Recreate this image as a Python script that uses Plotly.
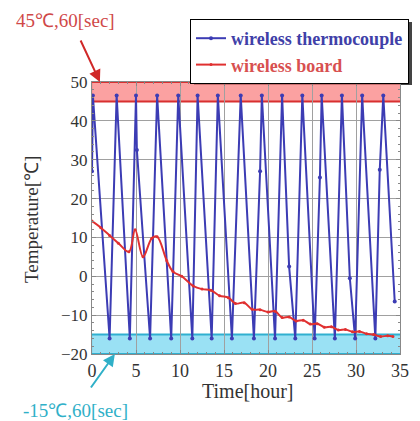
import plotly.graph_objects as go

# Wireless thermocouple (blue) - cycling between about -16 and 46 C
tc_time = [0.0, 0.1, 2.0, 2.8, 4.3, 5.0, 5.1, 6.6, 7.4, 9.0, 9.8, 11.4, 12.0, 13.6, 14.3,
           15.9, 16.9, 18.4, 19.1, 19.3, 20.8, 21.6, 22.4, 23.1, 23.9, 25.3, 25.9, 26.1,
           27.6, 28.4, 29.3, 29.9, 30.7, 32.2, 32.7, 33.1, 34.4]
tc_temp = [27.0, 46.5, -16.0, 46.5, -16.0, 46.5, 32.5, -16.0, 46.5, -16.0, 46.5, -16.0, 46.5,
           -16.0, 46.5, -16.0, 46.5, -16.0, 27.0, 46.5, -16.0, 46.5, 2.5, -16.0, 46.5,
           -16.0, 25.4, 46.5, -16.0, 46.5, -0.5, -16.0, 46.5, -16.0, 27.4, 46.5, -6.5]

# Wireless board (red)
bd_time = [0.0, 1.0, 2.0, 3.0, 4.2, 4.9, 5.8, 6.8, 7.4, 8.5, 9.2, 10.2, 11.5, 12.5, 13.5,
           14.5, 15.5, 16.3, 17.3, 18.2, 19.1, 20.0, 20.8, 21.6, 22.4, 23.2, 24.0, 24.8,
           25.6, 26.4, 27.2, 28.0, 28.8, 29.6, 30.4, 31.2, 32.0, 32.8, 33.6, 34.2]
bd_temp = [14.2, 12.5, 10.5, 8.5, 6.3, 12.0, 5.0, 9.8, 10.2, 4.0, 1.2, 0.0, -2.5, -3.3, -3.6,
           -5.0, -5.5, -7.0, -6.8, -8.5, -8.6, -9.2, -9.0, -10.6, -10.5, -11.5, -11.3, -12.3,
           -12.2, -13.1, -13.0, -13.8, -13.7, -14.3, -14.2, -14.8, -15.0, -15.5, -15.3, -15.5]

x_ticks = [0, 5, 10, 15, 20, 25, 30, 35]
y_ticks = [-20, -10, 0, 10, 20, 30, 40, 50]

SERIF = "Liberation Serif"
BLUE = "#3c3cb4"
RED = "#e03030"

OFF = 8  # page body margin
W, H = 412, 413
L, R, T, B = 84, 20, 74, 67
pw, ph = W - L - R, H - T - B


def px(x):
    return (x - OFF - L) / pw


def py(y):
    return (H - B - (y - OFF)) / ph


fig = go.Figure()
fig.add_trace(go.Scatter(x=tc_time, y=tc_temp, mode="lines+markers",
                         name="<b><span style='color:#4040a8'>wireless thermocouple</span></b>",
                         line=dict(color=BLUE, width=2),
                         marker=dict(color=BLUE, size=4)))
fig.add_trace(go.Scatter(x=bd_time, y=bd_temp, mode="lines+markers",
                         name="<b><span style='color:#d85050'>wireless board</span></b>",
                         line=dict(color=RED, width=2, shape="spline"),
                         marker=dict(color=RED, size=3)))

# bands
fig.add_shape(type="rect", xref="x", yref="y", x0=-0.1, x1=35.2, y0=45, y1=50,
              fillcolor="rgba(250,130,130,0.75)", line=dict(color="#d83030", width=2),
              layer="below")
fig.add_shape(type="rect", xref="x", yref="y", x0=-0.1, x1=35.2, y0=-20, y1=-15,
              fillcolor="rgba(120,215,240,0.75)", line=dict(color="#30b0d0", width=2),
              layer="below")

# legend shadow
fig.add_shape(type="rect", xref="paper", yref="paper", x0=px(194), x1=px(412), y0=py(85), y1=py(22),
              fillcolor="#444444", line=dict(width=0), layer="below")

fig.add_annotation(x=0.9, y=50, xref="x", yref="y", ax=-20, ay=-43,
                   text="", showarrow=True, arrowhead=2, arrowsize=1.2, arrowwidth=2,
                   arrowcolor="#d02828")
fig.add_annotation(x=2.6, y=-20, xref="x", yref="y", ax=-25, ay=35,
                   text="", showarrow=True, arrowhead=2, arrowsize=1.2, arrowwidth=2,
                   arrowcolor="#30b0c8")
fig.add_annotation(x=px(65), y=py(21), xref="paper", yref="paper", text="45℃,60[sec]",
                   xanchor="center", yanchor="middle",
                   showarrow=False, font=dict(family=SERIF, size=19, color="#d04848"))
fig.add_annotation(x=px(75), y=py(410), xref="paper", yref="paper", text="-15℃,60[sec]",
                   xanchor="center", yanchor="middle",
                   showarrow=False, font=dict(family=SERIF, size=19, color="#30b0c8"))
fig.add_annotation(x=px(247), y=py(391), xref="paper", yref="paper", text="Time[hour]",
                   xanchor="center", yanchor="middle",
                   showarrow=False, font=dict(family=SERIF, size=20, color="#333333"))
fig.add_annotation(x=px(31), y=py(220), xref="paper", yref="paper", text="Temperature[℃]",
                   xanchor="center", yanchor="middle", textangle=-90,
                   showarrow=False, font=dict(family=SERIF, size=19, color="#333333"))

fig.update_layout(
    width=W, height=H,
    margin=dict(l=L, r=R, t=T, b=B, autoexpand=False),
    paper_bgcolor="white", plot_bgcolor="rgba(0,0,0,0)",
    font=dict(family=SERIF, size=15, color="#333333"),
    showlegend=True,
    legend=dict(x=px(190), y=py(19), xanchor="left", yanchor="top",
                bgcolor="white", bordercolor="black", borderwidth=1,
                font=dict(family=SERIF, size=18),
                tracegroupgap=0, itemwidth=30),
    xaxis=dict(range=[0, 35], tickvals=x_ticks, showgrid=True, gridcolor="#a0a0a0",
               gridwidth=1, zeroline=False, showline=True, linecolor="#888888",
               mirror="ticks", ticks="inside", ticklen=4, tickcolor="#888888",
               minor=dict(dtick=1, ticks="inside", ticklen=2, tickcolor="#888888"),
               tickfont=dict(family=SERIF, size=18)),
    yaxis=dict(range=[-20, 50], tickvals=y_ticks, showgrid=True, gridcolor="#a0a0a0",
               gridwidth=1, zeroline=False, showline=True, linecolor="#888888",
               mirror="ticks", ticks="inside", ticklen=4, tickcolor="#888888",
               minor=dict(dtick=2, ticks="inside", ticklen=2, tickcolor="#888888"),
               tickfont=dict(family=SERIF, size=17)),
)

fig.write_html("out.html")
